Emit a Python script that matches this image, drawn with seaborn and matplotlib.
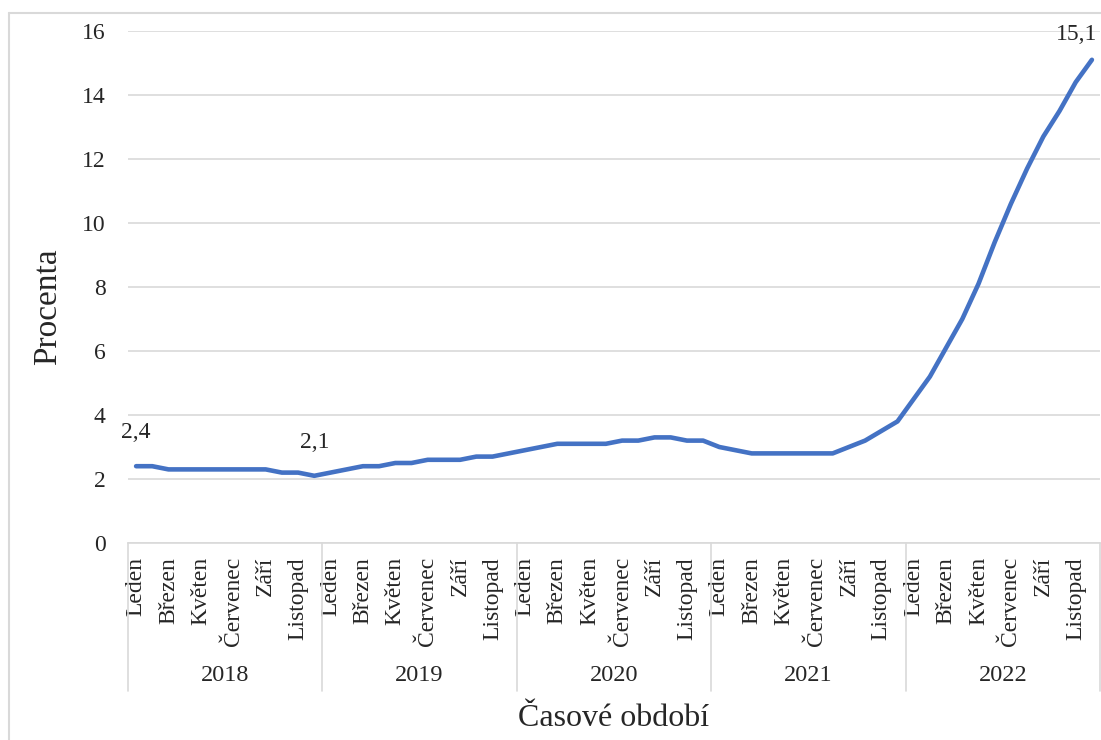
import matplotlib
matplotlib.use("Agg")
import matplotlib.pyplot as plt
import matplotlib.transforms as mtransforms
from matplotlib.lines import Line2D
import numpy as np
import pandas as pd
import seaborn as sns

# data
years = ["2018", "2019", "2020", "2021", "2022"]
months = ["Leden", "Únor", "Březen", "Duben", "Květen", "Červen",
          "Červenec", "Srpen", "Září", "Říjen", "Listopad", "Prosinec"]
infl_2018 = [2.4, 2.4, 2.3, 2.3, 2.3, 2.3, 2.3, 2.3, 2.3, 2.2, 2.2, 2.1]
infl_2019 = [2.2, 2.3, 2.4, 2.4, 2.5, 2.5, 2.6, 2.6, 2.6, 2.7, 2.7, 2.8]
infl_2020 = [2.9, 3.0, 3.1, 3.1, 3.1, 3.1, 3.2, 3.2, 3.3, 3.3, 3.2, 3.2]
infl_2021 = [3.0, 2.9, 2.8, 2.8, 2.8, 2.8, 2.8, 2.8, 3.0, 3.2, 3.5, 3.8]
infl_2022 = [4.5, 5.2, 6.1, 7.0, 8.1, 9.4, 10.6, 11.7, 12.7, 13.5, 14.4, 15.1]
labelled_points = [0, 11, 59]

values = infl_2018 + infl_2019 + infl_2020 + infl_2021 + infl_2022
df = pd.DataFrame({
    "idx": np.arange(len(values)),
    "rok": np.repeat(years, 12),
    "mesic": months * len(years),
    "hodnota": values,
})

sns.set_style("white")
plt.rcParams["font.family"] = ["Liberation Serif", "DejaVu Serif"]

fig = plt.figure(figsize=(11.01, 7.40), dpi=100)
ax = fig.add_axes([128 / 1101, (740 - 543) / 740, 972 / 1101, 512 / 740])

grid_col = "#d9d9d9"
sns.lineplot(data=df, x="idx", y="hodnota", ax=ax, color="#4472c4",
             linewidth=3.3, solid_capstyle="round")

ax.set_xlim(-0.5, len(values) - 0.5)
ax.set_ylim(0, 16)
ax.set_yticks(range(0, 17, 2))
ax.yaxis.grid(True, color=grid_col, linewidth=1.2)
ax.set_axisbelow(True)
for s in ["left", "right", "top"]:
    ax.spines[s].set_visible(False)
ax.spines["bottom"].set_color(grid_col)
ax.spines["bottom"].set_linewidth(1.2)

# month labels (every other month)
shown = df[df["idx"] % 2 == 0]
ax.set_xticks(shown["idx"])
ax.set_xticklabels(shown["mesic"], rotation=90, fontsize=17)
ax.tick_params(axis="x", length=0, pad=10)
ax.tick_params(axis="y", length=0, pad=16, labelsize=17)
ax.set_xlabel("")
ax.set_ylabel("")

# year level of the category axis
trans = mtransforms.blended_transform_factory(ax.transData, ax.transAxes)
for i, yr in enumerate(years):
    ax.text(i * 12 + 5.5, -0.258, yr, transform=trans, ha="center",
            va="center", fontsize=17.5)
for i in range(len(years) + 1):
    ax.add_line(Line2D([i * 12 - 0.5] * 2, [0, -0.289], transform=trans,
                       color=grid_col, linewidth=1.2, clip_on=False))

# data labels
for i in labelled_points:
    txt = f"{values[i]:.1f}".replace(".", ",")
    dx = -11 if i == len(values) - 1 else 0
    dy = 18 if i == len(values) - 1 else 24
    ax.annotate(txt, (i, values[i]), xytext=(dx, dy), textcoords="offset points",
                ha="center", va="center", fontsize=17)

fig.text(48 / 1101, 1 - 307 / 740, "Procenta", rotation=90, ha="center",
         va="center", fontsize=24)
fig.text(614 / 1101, 1 - 726 / 740, "Časové období", ha="center",
         va="baseline", fontsize=23)

# chart area border
fig.add_artist(Line2D([9 / 1101, 9 / 1101], [0, 1 - 13 / 740],
                      transform=fig.transFigure, color=grid_col, linewidth=1.5))
fig.add_artist(Line2D([9 / 1101, 1], [1 - 13 / 740, 1 - 13 / 740],
                      transform=fig.transFigure, color=grid_col, linewidth=1.5))

fig.savefig("out.png", dpi=100)
